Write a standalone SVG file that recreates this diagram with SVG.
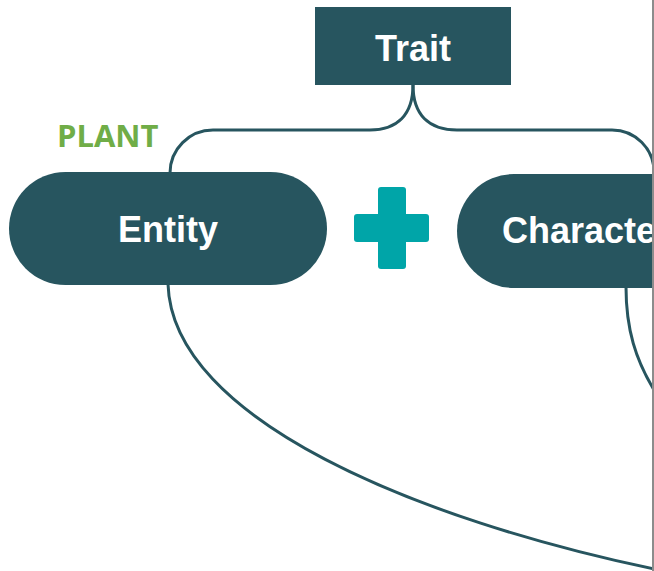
<svg xmlns="http://www.w3.org/2000/svg" width="654" height="571" viewBox="0 0 654 571">
  <defs>
    <style>
      .node { fill: #27555F; }
      .lbl { fill: #FFFFFF; font-family: "Liberation Sans", Arial, sans-serif; font-weight: bold; font-size: 36px; }
      .conn { fill: none; stroke: #27555F; stroke-width: 3; }
      .plus { fill: #00A5A8; }
    </style>
    <clipPath id="page"><rect x="0" y="0" width="652" height="571"/></clipPath>
  </defs>
  <rect x="0" y="0" width="654" height="571" fill="#FFFFFF"/>
  <g clip-path="url(#page)">
    <g id="connectors">
      <path class="conn" d="M413,85 C413,115 397,130 370,130 H213 A43,43 0 0 0 170,173"/>
      <path class="conn" d="M413,85 C413,115 429,130 457,130 H612 A42,42 0 0 1 654,172"/>
      <path class="conn" d="M168,284 C172,420 420,520 654,569"/>
      <path class="conn" d="M626,287 C626,330 636,360 654,390"/>
    </g>
    <g id="trait">
      <rect class="node" x="315" y="7" width="196" height="78"/>
      <text class="lbl" x="413" y="61" text-anchor="middle">Trait</text>
    </g>
    <g id="entity">
      <rect class="node" x="9" y="172" width="318" height="113" rx="56.5" ry="56.5"/>
      <text class="lbl" x="168" y="242" text-anchor="middle">Entity</text>
    </g>
    <g id="plant-label">
      <text x="57" y="147" font-family="'Open Sans', 'Noto Sans', sans-serif" font-weight="bold" font-size="31" fill="#70AD47">PLANT</text>
    </g>
    <g id="plus">
      <rect class="plus" x="378" y="187" width="28" height="82" rx="3"/>
      <rect class="plus" x="354" y="214" width="75" height="28" rx="3"/>
    </g>
    <g id="characteristic">
      <rect class="node" x="457" y="174" width="360" height="114" rx="57" ry="57"/>
      <text class="lbl" x="502" y="243">Characteristic</text>
    </g>
  </g>
  <rect x="652" y="0" width="2" height="571" fill="#8C8C8C"/>
</svg>
